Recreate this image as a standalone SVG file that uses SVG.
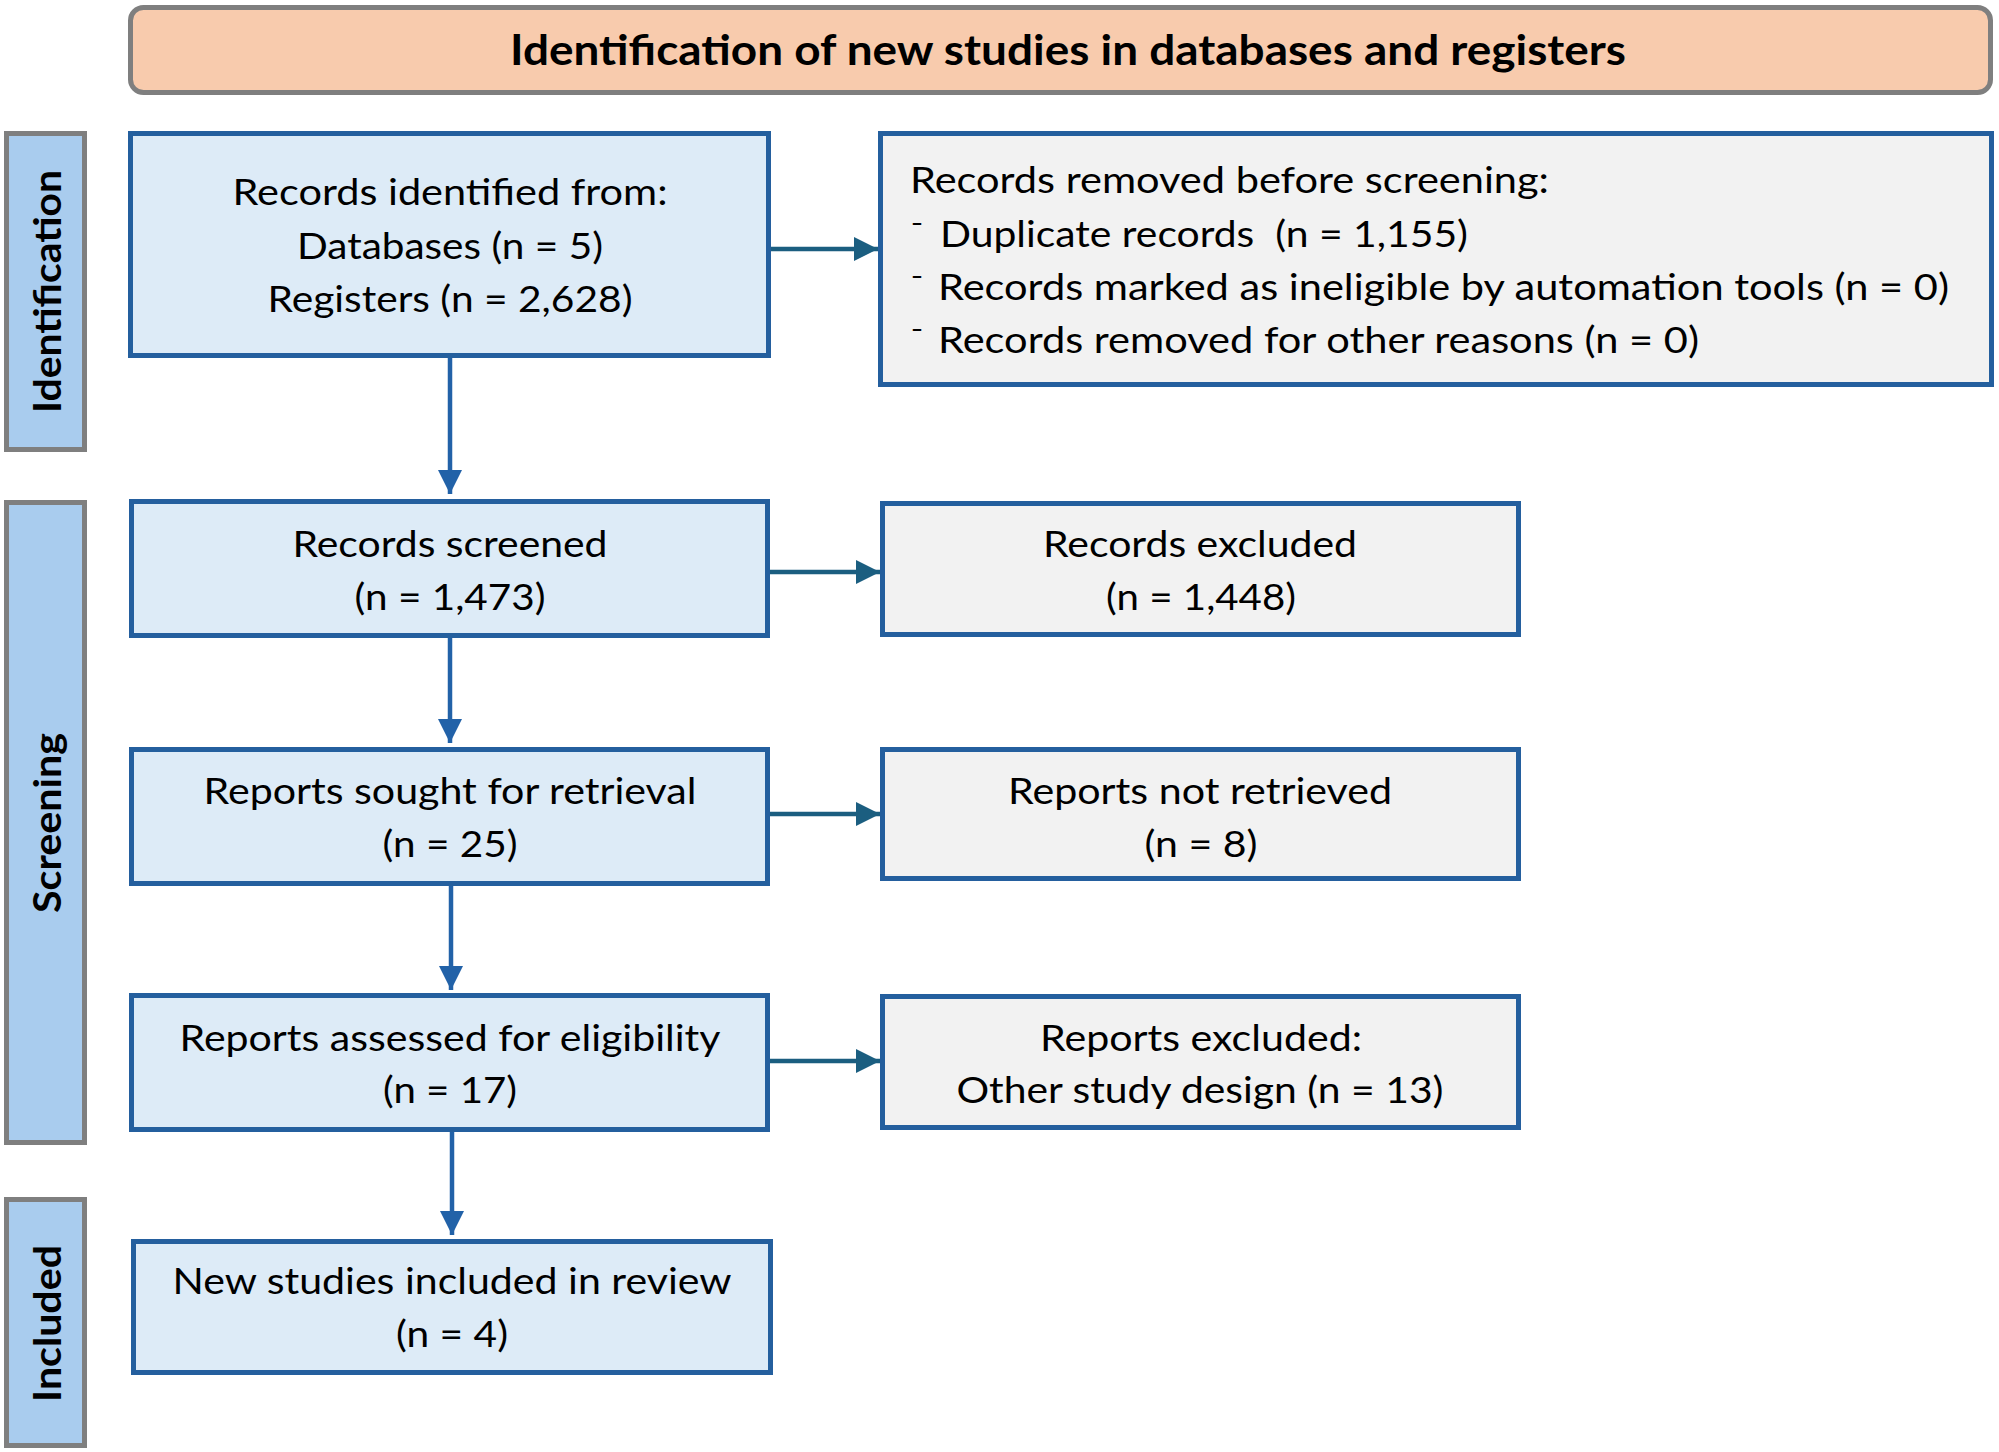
<svg xmlns="http://www.w3.org/2000/svg" width="1999" height="1452" viewBox="0 0 1999 1452">
  <style>
    .title { fill: #F8CBAD; stroke: #7F7F7F; stroke-width: 5; }
    .side { fill: #A9CCEE; stroke: #7F7F7F; stroke-width: 5; }
    .boxL { fill: #DDEBF7; stroke: #245F9E; stroke-width: 5; }
    .boxR { fill: #F2F2F2; stroke: #245F9E; stroke-width: 5; }
    .t { font-family: Lato, "Liberation Sans", sans-serif; font-size: 36px; fill: #000; }
    .d { font-family: Lato, "Liberation Sans", sans-serif; font-size: 18px; font-weight: bold; fill: #000; }
    .c { text-anchor: middle; }
    .tb { font-family: Lato, "Liberation Sans", sans-serif; font-weight: bold; fill: #000; }
    .v { stroke: #2262A8; stroke-width: 4.5; fill: none; marker-end: url(#ahV); }
    .h { stroke: #1B5E80; stroke-width: 4.5; fill: none; marker-end: url(#ahH); }
  </style>
  <defs>
    <marker id="ahV" markerUnits="userSpaceOnUse" markerWidth="24" markerHeight="24" refX="24" refY="12" orient="auto">
      <path d="M0,0 L24,12 L0,24 Z" fill="#2262A8"/>
    </marker>
    <marker id="ahH" markerUnits="userSpaceOnUse" markerWidth="24" markerHeight="24" refX="24" refY="12" orient="auto">
      <path d="M0,0 L24,12 L0,24 Z" fill="#1B5E80"/>
    </marker>
  </defs>
  <rect width="1999" height="1452" fill="#FFFFFF"/>

  <g id="header">
    <rect class="title" x="130.5" y="7.5" width="1860" height="85" rx="13"/>
    <text class="tb c" x="1068" y="65" font-size="42" textLength="1116" lengthAdjust="spacingAndGlyphs">Identification of new studies in databases and registers</text>
  </g>

  <g id="phase-identification">
    <rect class="side" x="6.5" y="133.5" width="78" height="316"/>
    <text class="tb c" x="61" y="291.5" font-size="38" transform="rotate(-90 61 291.5)" textLength="243" lengthAdjust="spacingAndGlyphs">Identification</text>
  </g>
  <g id="phase-screening">
    <rect class="side" x="6.5" y="502.5" width="78" height="640"/>
    <text class="tb c" x="61" y="823" font-size="38" transform="rotate(-90 61 823)" textLength="180" lengthAdjust="spacingAndGlyphs">Screening</text>
  </g>
  <g id="phase-included">
    <rect class="side" x="6.5" y="1199.5" width="78" height="246"/>
    <text class="tb c" x="61" y="1323.5" font-size="38" transform="rotate(-90 61 1323.5)" textLength="157" lengthAdjust="spacingAndGlyphs">Included</text>
  </g>

  <g id="connectors">
    <path class="v" d="M450,358 V494"/>
    <path class="v" d="M450,638 V743"/>
    <path class="v" d="M451,886 V990"/>
    <path class="v" d="M452,1132 V1235"/>
    <path class="h" d="M771,249 H878"/>
    <path class="h" d="M770,572 H880"/>
    <path class="h" d="M770,814 H880"/>
    <path class="h" d="M770,1061 H880"/>
  </g>

  <g id="records-identified">
    <rect class="boxL" x="130.5" y="133.5" width="638" height="222"/>
    <text class="t c" x="450" y="205" textLength="435" lengthAdjust="spacingAndGlyphs">Records identified from:</text>
    <text class="t c" x="450" y="259" textLength="306" lengthAdjust="spacingAndGlyphs">Databases (n = 5)</text>
    <text class="t c" x="450" y="312" textLength="365" lengthAdjust="spacingAndGlyphs">Registers (n = 2,628)</text>
  </g>

  <g id="records-removed">
    <rect class="boxR" x="880.5" y="133.5" width="1111" height="251"/>
    <text class="t" x="910" y="193" textLength="639" lengthAdjust="spacingAndGlyphs">Records removed before screening:</text>
    <text class="d" x="911" y="230" textLength="12" lengthAdjust="spacingAndGlyphs">-</text>
    <text class="t" x="940" y="247" style="white-space:pre" textLength="528" lengthAdjust="spacingAndGlyphs">Duplicate records  (n = 1,155)</text>
    <text class="d" x="911" y="283" textLength="12" lengthAdjust="spacingAndGlyphs">-</text>
    <text class="t" x="938" y="300" textLength="1011" lengthAdjust="spacingAndGlyphs">Records marked as ineligible by automation tools (n = 0)</text>
    <text class="d" x="911" y="336" textLength="12" lengthAdjust="spacingAndGlyphs">-</text>
    <text class="t" x="938" y="353" textLength="761" lengthAdjust="spacingAndGlyphs">Records removed for other reasons (n = 0)</text>
  </g>

  <g id="records-screened">
    <rect class="boxL" x="131.5" y="501.5" width="636" height="134"/>
    <text class="t c" x="450" y="557" textLength="315" lengthAdjust="spacingAndGlyphs">Records screened</text>
    <text class="t c" x="450" y="610" textLength="191" lengthAdjust="spacingAndGlyphs">(n = 1,473)</text>
  </g>

  <g id="records-excluded">
    <rect class="boxR" x="882.5" y="503.5" width="636" height="131"/>
    <text class="t c" x="1200" y="557" textLength="314" lengthAdjust="spacingAndGlyphs">Records excluded</text>
    <text class="t c" x="1201" y="610" textLength="190" lengthAdjust="spacingAndGlyphs">(n = 1,448)</text>
  </g>

  <g id="reports-sought">
    <rect class="boxL" x="131.5" y="749.5" width="636" height="134"/>
    <text class="t c" x="450" y="804" textLength="493" lengthAdjust="spacingAndGlyphs">Reports sought for retrieval</text>
    <text class="t c" x="450" y="857" textLength="135" lengthAdjust="spacingAndGlyphs">(n = 25)</text>
  </g>

  <g id="reports-not-retrieved">
    <rect class="boxR" x="882.5" y="749.5" width="636" height="129"/>
    <text class="t c" x="1200" y="804" textLength="384" lengthAdjust="spacingAndGlyphs">Reports not retrieved</text>
    <text class="t c" x="1201" y="857" textLength="113" lengthAdjust="spacingAndGlyphs">(n = 8)</text>
  </g>

  <g id="reports-assessed">
    <rect class="boxL" x="131.5" y="995.5" width="636" height="134"/>
    <text class="t c" x="450" y="1051" textLength="541" lengthAdjust="spacingAndGlyphs">Reports assessed for eligibility</text>
    <text class="t c" x="450" y="1103" textLength="134" lengthAdjust="spacingAndGlyphs">(n = 17)</text>
  </g>

  <g id="reports-excluded">
    <rect class="boxR" x="882.5" y="996.5" width="636" height="131"/>
    <text class="t c" x="1201" y="1051" textLength="322" lengthAdjust="spacingAndGlyphs">Reports excluded:</text>
    <text class="t c" x="1200" y="1103" textLength="487" lengthAdjust="spacingAndGlyphs">Other study design (n = 13)</text>
  </g>

  <g id="studies-included">
    <rect class="boxL" x="133.5" y="1241.5" width="637" height="131"/>
    <text class="t c" x="452" y="1294" textLength="559" lengthAdjust="spacingAndGlyphs">New studies included in review</text>
    <text class="t c" x="452" y="1347" textLength="112" lengthAdjust="spacingAndGlyphs">(n = 4)</text>
  </g>
</svg>
